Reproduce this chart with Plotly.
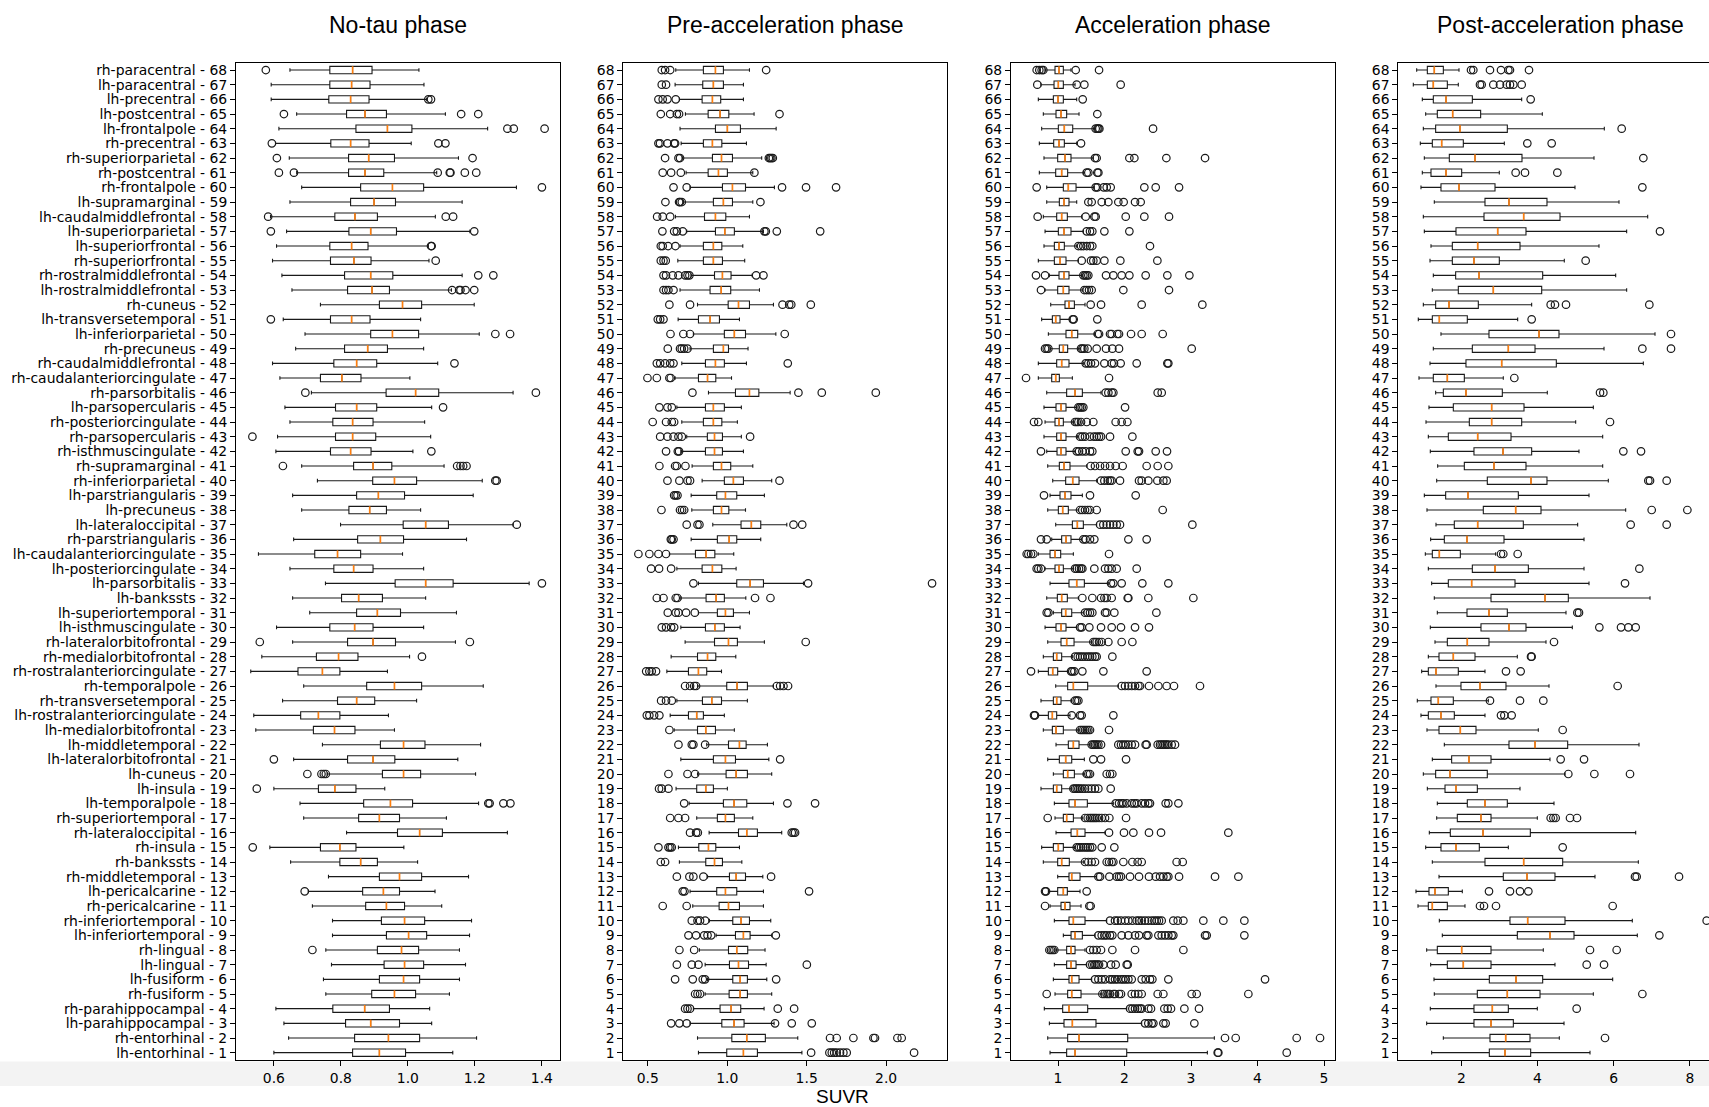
import plotly.graph_objects as go

W, H = 1709, 1107

# ---------------- data (rows listed top to bottom: 68 ... 1) ----------------
region_names = [
    "rh-paracentral", "lh-paracentral", "lh-precentral", "lh-postcentral", "lh-frontalpole",
    "rh-precentral", "rh-superiorparietal", "rh-postcentral", "rh-frontalpole", "lh-supramarginal",
    "lh-caudalmiddlefrontal", "lh-superiorparietal", "lh-superiorfrontal", "rh-superiorfrontal",
    "rh-rostralmiddlefrontal", "lh-rostralmiddlefrontal", "rh-cuneus", "lh-transversetemporal",
    "lh-inferiorparietal", "rh-precuneus", "rh-caudalmiddlefrontal", "rh-caudalanteriorcingulate",
    "rh-parsorbitalis", "lh-parsopercularis", "rh-posteriorcingulate", "rh-parsopercularis",
    "rh-isthmuscingulate", "rh-supramarginal", "rh-inferiorparietal", "lh-parstriangularis",
    "lh-precuneus", "lh-lateraloccipital", "rh-parstriangularis", "lh-caudalanteriorcingulate",
    "lh-posteriorcingulate", "lh-parsorbitalis", "lh-bankssts", "lh-superiortemporal",
    "lh-isthmuscingulate", "rh-lateralorbitofrontal", "rh-medialorbitofrontal",
    "rh-rostralanteriorcingulate", "rh-temporalpole", "rh-transversetemporal",
    "lh-rostralanteriorcingulate", "lh-medialorbitofrontal", "lh-middletemporal",
    "lh-lateralorbitofrontal", "lh-cuneus", "lh-insula", "lh-temporalpole", "rh-superiortemporal",
    "rh-lateraloccipital", "rh-insula", "rh-bankssts", "rh-middletemporal", "lh-pericalcarine",
    "rh-pericalcarine", "rh-inferiortemporal", "lh-inferiortemporal", "rh-lingual", "lh-lingual",
    "lh-fusiform", "rh-fusiform", "rh-parahippocampal", "lh-parahippocampal", "rh-entorhinal",
    "lh-entorhinal",
]
row_ids = list(range(68, 0, -1))

titles = ["No-tau phase", "Pre-acceleration phase", "Acceleration phase", "Post-acceleration phase"]
x_title = "SUVR"
x_tickvals = [[0.6, 0.8, 1.0, 1.2, 1.4], [0.5, 1.0, 1.5, 2.0], [1, 2, 3, 4, 5], [2, 4, 6, 8]]
x_ticktext = [["0.6", "0.8", "1.0", "1.2", "1.4"], ["0.5", "1.0", "1.5", "2.0"],
              ["1", "2", "3", "4", "5"], ["2", "4", "6", "8"]]

# ---- No-tau phase ----
p1_lo = [0.648, 0.592, 0.592, 0.668, 0.615, 0.605, 0.646, 0.668, 0.683, 0.648,
         0.590, 0.638, 0.608, 0.596, 0.624, 0.654, 0.739, 0.628, 0.693, 0.665,
         0.596, 0.618, 0.712, 0.633, 0.648, 0.611, 0.606, 0.683, 0.730, 0.656,
         0.683, 0.799, 0.659, 0.554, 0.648, 0.754, 0.656, 0.707, 0.608, 0.656,
         0.564, 0.531, 0.689, 0.626, 0.540, 0.546, 0.745, 0.659, 0.759, 0.600,
         0.678, 0.689, 0.817, 0.588, 0.650, 0.763, 0.703, 0.715, 0.775, 0.775,
         0.755, 0.772, 0.748, 0.755, 0.606, 0.630, 0.644, 0.600]
p1_q1 = [0.767, 0.767, 0.764, 0.817, 0.845, 0.770, 0.823, 0.823, 0.859, 0.829,
         0.782, 0.824, 0.767, 0.769, 0.811, 0.820, 0.915, 0.769, 0.889, 0.811,
         0.779, 0.739, 0.935, 0.784, 0.776, 0.784, 0.769, 0.838, 0.895, 0.847,
         0.824, 0.986, 0.850, 0.722, 0.779, 0.962, 0.802, 0.847, 0.767, 0.820,
         0.727, 0.672, 0.877, 0.790, 0.680, 0.718, 0.918, 0.820, 0.924, 0.733,
         0.868, 0.853, 0.969, 0.739, 0.797, 0.915, 0.865, 0.874, 0.921, 0.936,
         0.909, 0.929, 0.915, 0.892, 0.776, 0.814, 0.841, 0.835]
p1_med = [0.835, 0.832, 0.829, 0.872, 0.939, 0.829, 0.883, 0.872, 0.954, 0.899,
          0.842, 0.889, 0.832, 0.839, 0.889, 0.893, 0.984, 0.832, 0.954, 0.880,
          0.847, 0.803, 1.023, 0.847, 0.835, 0.835, 0.829, 0.896, 0.960, 0.912,
          0.886, 1.053, 0.918, 0.790, 0.838, 1.053, 0.853, 0.909, 0.841, 0.896,
          0.793, 0.745, 0.960, 0.847, 0.733, 0.781, 0.987, 0.896, 0.987, 0.782,
          0.948, 0.915, 1.035, 0.797, 0.859, 0.975, 0.927, 0.936, 0.990, 1.002,
          0.981, 0.990, 0.987, 0.960, 0.871, 0.889, 0.942, 0.915]
p1_q3 = [0.893, 0.887, 0.884, 0.936, 1.012, 0.884, 0.960, 0.928, 1.047, 0.963,
         0.909, 0.966, 0.881, 0.890, 0.955, 0.945, 1.041, 0.887, 1.032, 0.939,
         0.907, 0.860, 1.092, 0.907, 0.896, 0.904, 0.890, 0.952, 1.026, 0.990,
         0.936, 1.121, 0.987, 0.859, 0.896, 1.135, 0.924, 0.978, 0.896, 0.963,
         0.851, 0.797, 1.041, 0.901, 0.797, 0.842, 1.051, 0.961, 1.038, 0.845,
         1.014, 0.975, 1.103, 0.845, 0.909, 1.041, 0.975, 0.990, 1.050, 1.056,
         1.032, 1.047, 1.035, 1.023, 0.945, 0.975, 1.035, 0.993]
p1_hi = [1.033, 1.048, 1.056, 1.112, 1.238, 1.010, 1.151, 1.086, 1.324, 1.162,
         1.082, 1.185, 1.061, 1.063, 1.162, 1.130, 1.198, 1.038, 1.213, 1.047,
         1.089, 1.006, 1.314, 1.071, 1.050, 1.068, 1.015, 1.108, 1.222, 1.195,
         1.038, 1.314, 1.175, 0.984, 1.047, 1.362, 1.053, 1.145, 1.047, 1.142,
         1.005, 0.939, 1.225, 1.026, 0.942, 0.960, 1.217, 1.149, 1.202, 0.931,
         1.211, 1.115, 1.297, 0.988, 1.029, 1.181, 1.081, 1.101, 1.190, 1.184,
         1.154, 1.172, 1.154, 1.124, 1.065, 1.071, 1.205, 1.134]
p1_out = [[0.576], [], [1.061, 1.069], [0.630, 1.159, 1.210], [1.297, 1.316, 1.408],
          [0.594, 1.091, 1.112], [0.609, 1.193], [0.615, 0.660, 1.089, 1.125, 1.127, 1.170, 1.204],
          [1.400], [],
          [0.583, 1.113, 1.135], [0.591, 1.198], [1.069, 1.071], [1.083], [1.210, 1.255],
          [1.132, 1.153, 1.157, 1.172, 1.198], [], [0.591], [1.261, 1.305], [],
          [1.139], [], [0.694, 1.382], [1.105], [], [0.536], [1.070],
          [0.627, 1.147, 1.157, 1.165, 1.175], [1.261, 1.265], [],
          [], [1.325], [], [], [], [1.400], [], [], [], [0.558, 1.185],
          [1.042], [], [], [], [], [], [], [0.600], [0.700, 0.742, 0.749, 0.755], [0.549],
          [1.240, 1.244, 1.285, 1.306], [], [], [0.537], [], [], [0.692], [], [], [],
          [0.715], [], [], [], [], [], [], []]

# ---- Pre-acceleration phase ----
p2_lo = [0.676, 0.672, 0.699, 0.737, 0.703, 0.710, 0.718, 0.741, 0.766, 0.724,
         0.674, 0.745, 0.703, 0.689, 0.773, 0.703, 0.813, 0.691, 0.787, 0.766,
         0.714, 0.672, 0.882, 0.683, 0.714, 0.745, 0.708, 0.779, 0.842, 0.773,
         0.777, 0.909, 0.773, 0.636, 0.683, 0.819, 0.708, 0.819, 0.708, 0.735,
         0.647, 0.620, 0.813, 0.683, 0.641, 0.666, 0.871, 0.708, 0.813, 0.678,
         0.760, 0.808, 0.886, 0.693, 0.699, 0.876, 0.766, 0.783, 0.888, 0.930,
         0.825, 0.861, 0.876, 0.861, 0.787, 0.766, 0.813, 0.819]
p2_q1 = [0.850, 0.846, 0.842, 0.880, 0.926, 0.850, 0.907, 0.880, 0.970, 0.913,
         0.857, 0.926, 0.850, 0.850, 0.920, 0.892, 1.006, 0.819, 0.982, 0.913,
         0.863, 0.819, 1.052, 0.863, 0.850, 0.875, 0.863, 0.913, 0.982, 0.934,
         0.913, 1.087, 0.938, 0.800, 0.842, 1.060, 0.867, 0.938, 0.863, 0.920,
         0.813, 0.756, 0.997, 0.844, 0.756, 0.813, 1.008, 0.913, 0.993, 0.808,
         0.976, 0.938, 1.071, 0.821, 0.865, 1.014, 0.934, 0.949, 1.035, 1.052,
         1.008, 1.014, 1.035, 1.012, 0.955, 0.966, 1.029, 0.997]
p2_med = [0.926, 0.913, 0.907, 0.955, 1.001, 0.907, 0.964, 0.945, 1.033, 0.976,
          0.926, 0.985, 0.913, 0.913, 0.970, 0.962, 1.071, 0.892, 1.045, 0.976,
          0.926, 0.876, 1.140, 0.913, 0.913, 0.920, 0.920, 0.964, 1.039, 0.989,
          0.964, 1.152, 1.012, 0.867, 0.907, 1.144, 0.930, 0.989, 0.922, 1.008,
          0.876, 0.819, 1.062, 0.903, 0.808, 0.865, 1.077, 0.989, 1.056, 0.865,
          1.043, 0.989, 1.123, 0.882, 0.920, 1.056, 0.989, 1.008, 1.087, 1.102,
          1.060, 1.071, 1.081, 1.081, 1.024, 1.043, 1.123, 1.102]
p2_q3 = [0.976, 0.976, 0.959, 1.010, 1.083, 0.966, 1.033, 1.001, 1.115, 1.033,
         0.991, 1.045, 0.966, 0.970, 1.024, 1.022, 1.140, 0.951, 1.115, 1.008,
         0.982, 0.928, 1.199, 0.982, 0.966, 0.970, 0.970, 1.022, 1.102, 1.060,
         1.010, 1.211, 1.060, 0.922, 0.966, 1.228, 0.982, 1.039, 0.982, 1.064,
         0.928, 0.871, 1.127, 0.964, 0.850, 0.926, 1.119, 1.052, 1.127, 0.913,
         1.123, 1.045, 1.190, 0.928, 0.970, 1.115, 1.060, 1.077, 1.140, 1.144,
         1.129, 1.134, 1.127, 1.127, 1.085, 1.106, 1.240, 1.190]
p2_hi = [1.140, 1.102, 1.102, 1.169, 1.308, 1.121, 1.217, 1.161, 1.297, 1.161,
         1.140, 1.228, 1.098, 1.110, 1.157, 1.203, 1.291, 1.077, 1.306, 1.131,
         1.121, 1.027, 1.396, 1.089, 1.064, 1.089, 1.102, 1.161, 1.280, 1.234,
         1.115, 1.375, 1.211, 1.041, 1.056, 1.480, 1.117, 1.140, 1.081, 1.234,
         1.054, 0.964, 1.291, 1.127, 0.982, 1.045, 1.253, 1.262, 1.280, 1.001,
         1.291, 1.161, 1.343, 1.077, 1.092, 1.224, 1.228, 1.228, 1.274, 1.280,
         1.238, 1.245, 1.249, 1.280, 1.232, 1.295, 1.444, 1.470]
p2_out = [[0.588, 0.609, 0.641, 1.245], [0.588, 0.615], [0.567, 0.594, 0.624, 0.676],
          [0.582, 0.641, 0.683, 0.697, 1.329], [], [0.567, 0.577, 0.624, 0.666, 0.672],
          [0.609, 0.693, 0.703, 1.262, 1.270, 1.278, 1.287], [0.594, 0.647, 0.708, 1.171],
          [0.662, 0.745, 1.345, 1.496, 1.685], [0.611, 0.697, 0.703, 0.714, 1.209],
          [0.559, 0.594, 0.641], [0.592, 0.666, 0.683, 0.720, 1.234, 1.243, 1.312, 1.585],
          [0.582, 0.594, 0.628, 0.674], [0.582, 0.599, 0.613],
          [0.599, 0.615, 0.657, 0.693, 0.735, 0.750, 0.762, 1.182, 1.228],
          [0.599, 0.615, 0.630, 0.662], [0.636, 0.766, 1.348, 1.390, 1.403, 1.526],
          [0.563, 0.578, 0.599], [0.643, 0.724, 0.766, 1.362], [0.626, 0.703, 0.714, 0.729, 0.750],
          [0.557, 0.578, 0.609, 0.641, 0.662, 1.381], [0.498, 0.557, 0.636, 0.645],
          [0.781, 1.448, 1.595, 1.935], [0.573, 0.624, 0.651], [0.531, 0.615, 0.651, 0.666],
          [0.578, 0.624, 0.662, 0.693, 0.714, 1.144], [0.615, 0.689, 0.697],
          [0.573, 0.672, 0.683, 0.737], [0.624, 0.699, 0.750, 0.766, 1.329], [0.666, 0.676, 0.687],
          [0.586, 0.703, 0.716, 0.729], [0.745, 0.813, 0.825, 1.417, 1.472], [0.645, 0.651, 0.662],
          [0.441, 0.510, 0.567, 0.615], [0.521, 0.571, 0.647], [0.787, 1.509, 2.289],
          [0.557, 0.599, 0.676, 0.687, 1.175, 1.272], [0.626, 0.676, 0.693, 0.741, 0.796],
          [0.588, 0.615, 0.647, 0.666], [1.494],
          [], [0.490, 0.510, 0.525, 0.552], [0.735, 0.766, 0.792, 0.804, 1.312, 1.333, 1.354, 1.383],
          [0.584, 0.615, 0.651], [0.494, 0.510, 0.540, 0.573], [0.636], [0.693, 0.777, 0.787, 0.861],
          [1.333], [0.630, 0.750, 0.798], [0.571, 0.588, 0.630],
          [0.729, 1.379, 1.553], [0.641, 0.693, 0.735], [0.766, 0.804, 0.815, 1.406, 1.417, 1.427],
          [0.567, 0.630, 0.641, 0.651], [0.582, 0.609], [0.683, 0.762, 0.787, 0.850, 1.276],
          [0.720, 0.731, 1.515], [0.594, 0.745], [0.777, 0.813, 0.829, 0.861],
          [0.756, 0.804, 0.855, 0.876, 0.899, 1.306],
          [0.699, 0.792], [0.683, 0.777, 0.819, 1.501], [0.672, 0.783, 0.846, 0.861, 1.308],
          [0.798, 0.813, 0.829], [0.735, 0.750, 0.766, 1.318, 1.421],
          [0.647, 0.699, 0.745, 1.301, 1.406, 1.532],
          [1.647, 1.689, 1.794, 1.920, 1.930, 2.071, 2.098],
          [1.528, 1.643, 1.658, 1.673, 1.689, 1.710, 1.731, 1.752, 2.176]]

# ---- Acceleration phase ----
p3_lo = [0.805, 0.744, 0.704, 0.779, 0.754, 0.719, 0.789, 0.719, 0.830, 0.830,
         0.779, 0.805, 0.789, 0.704, 0.870, 0.805, 0.890, 0.754, 0.855, 0.880,
         0.704, 0.704, 0.830, 0.789, 0.805, 0.789, 0.830, 0.845, 0.920, 0.880,
         0.845, 0.965, 0.905, 0.704, 0.805, 0.880, 0.830, 0.930, 0.805, 0.845,
         0.779, 0.704, 0.965, 0.744, 0.704, 0.779, 0.970, 0.845, 0.930, 0.744,
         0.945, 0.955, 0.970, 0.754, 0.779, 0.995, 0.855, 0.880, 0.945, 1.080,
         0.970, 0.945, 0.930, 0.955, 0.794, 0.870, 0.845, 0.880]
p3_q1 = [0.955, 0.940, 0.930, 0.970, 1.005, 0.935, 0.995, 0.965, 1.080, 1.020,
         0.980, 1.005, 0.945, 0.945, 1.015, 0.995, 1.105, 0.915, 1.120, 1.020,
         0.980, 0.905, 1.130, 0.970, 0.955, 0.980, 0.985, 1.020, 1.115, 1.030,
         1.005, 1.216, 1.055, 0.880, 0.955, 1.165, 0.990, 1.055, 0.970, 1.045,
         0.930, 0.855, 1.145, 0.930, 0.855, 0.915, 1.155, 1.020, 1.080, 0.930,
         1.165, 1.080, 1.196, 0.930, 0.995, 1.165, 0.995, 1.045, 1.165, 1.196,
         1.130, 1.130, 1.165, 1.145, 1.070, 1.090, 1.145, 1.130]
p3_med = [1.015, 1.005, 1.000, 1.045, 1.095, 1.015, 1.105, 1.055, 1.155, 1.090,
          1.055, 1.090, 1.015, 1.030, 1.090, 1.080, 1.165, 0.965, 1.206, 1.080,
          1.055, 0.965, 1.256, 1.045, 1.015, 1.045, 1.045, 1.090, 1.221, 1.105,
          1.070, 1.291, 1.120, 0.955, 1.015, 1.281, 1.055, 1.115, 1.045, 1.130,
          0.980, 0.920, 1.231, 0.980, 0.915, 0.970, 1.231, 1.115, 1.145, 0.980,
          1.256, 1.130, 1.291, 1.005, 1.055, 1.206, 1.080, 1.105, 1.231, 1.256,
          1.196, 1.196, 1.206, 1.206, 1.165, 1.216, 1.316, 1.256]
p3_q3 = [1.080, 1.080, 1.080, 1.130, 1.221, 1.095, 1.195, 1.145, 1.271, 1.165,
         1.140, 1.195, 1.095, 1.120, 1.165, 1.165, 1.246, 1.030, 1.296, 1.145,
         1.165, 1.020, 1.366, 1.120, 1.080, 1.120, 1.120, 1.180, 1.316, 1.195,
         1.155, 1.381, 1.195, 1.040, 1.080, 1.396, 1.140, 1.206, 1.120, 1.241,
         1.055, 0.995, 1.446, 1.045, 0.980, 1.080, 1.316, 1.206, 1.246, 1.055,
         1.441, 1.231, 1.406, 1.080, 1.170, 1.331, 1.140, 1.180, 1.406, 1.366,
         1.256, 1.271, 1.316, 1.346, 1.446, 1.571, 2.048, 2.033]
p3_hi = [1.195, 1.256, 1.281, 1.316, 1.556, 1.281, 1.531, 1.381, 1.546, 1.281,
         1.356, 1.381, 1.281, 1.306, 1.366, 1.366, 1.406, 1.180, 1.546, 1.331,
         1.381, 1.216, 1.647, 1.281, 1.231, 1.296, 1.256, 1.431, 1.581, 1.366,
         1.306, 1.581, 1.356, 1.231, 1.231, 1.757, 1.306, 1.381, 1.281, 1.506,
         1.216, 1.155, 1.907, 1.196, 1.180, 1.306, 1.481, 1.396, 1.381, 1.196,
         1.832, 1.366, 1.707, 1.246, 1.381, 1.581, 1.331, 1.346, 1.732, 1.556,
         1.406, 1.431, 1.506, 1.657, 2.033, 2.258, 3.351, 3.246]
p3_out = [[0.679, 0.719, 0.754, 0.779, 1.266, 1.617], [0.689, 1.281, 1.396, 1.942], [1.371], [1.591],
          [1.566, 1.591, 1.607, 1.622, 2.429], [1.346],
          [1.556, 1.581, 2.073, 2.148, 2.629, 3.211], [1.431, 1.456, 1.591, 1.607],
          [0.679, 1.566, 1.591, 1.687, 1.732, 1.792, 2.298, 2.469, 2.820],
          [1.456, 1.506, 1.657, 1.757, 1.907, 1.987, 2.158, 2.243],
          [0.694, 1.416, 1.546, 1.566, 2.018, 2.298, 2.669], [1.431, 1.481, 1.516, 1.697, 2.073],
          [1.306, 1.346, 1.381, 1.431, 1.481, 1.516, 2.383],
          [1.356, 1.496, 1.531, 1.581, 1.697, 1.937, 2.494],
          [0.669, 0.805, 1.381, 1.406, 1.431, 1.456, 1.722, 1.832, 1.957, 2.073, 2.318, 2.644, 2.975],
          [0.744, 1.396, 1.431, 1.466, 1.506, 1.982, 2.669], [1.491, 1.647, 2.258, 3.170],
          [1.221, 1.236, 1.591],
          [1.597, 1.617, 1.782, 1.807, 1.892, 1.917, 2.098, 2.258, 2.574],
          [0.805, 0.830, 0.855, 1.346, 1.366, 1.396, 1.446, 1.581, 1.722, 1.817, 1.917, 3.010],
          [1.416, 1.456, 1.496, 1.556, 1.697, 1.807, 1.842, 1.942, 2.183, 2.644, 2.659],
          [0.519, 1.767], [1.717, 1.757, 1.807, 1.832, 2.499, 2.559],
          [1.306, 1.331, 1.356, 1.381, 2.008],
          [0.639, 0.704, 1.256, 1.281, 1.306, 1.346, 1.431, 1.531, 1.867, 1.957, 2.043],
          [1.331, 1.366, 1.406, 1.481, 1.541, 1.581, 1.617, 1.647, 1.782, 2.118],
          [0.744, 1.281, 1.316, 1.366, 1.416, 1.481, 1.516, 2.018, 2.198, 2.218, 2.469, 2.639],
          [1.491, 1.556, 1.632, 1.707, 1.782, 1.867, 1.972, 2.333, 2.499, 2.659],
          [1.647, 1.697, 1.747, 1.782, 1.807, 1.932, 2.218, 2.258, 2.358, 2.494, 2.584, 2.634],
          [0.789, 1.481, 2.168],
          [1.331, 1.366, 1.406, 1.446, 1.481, 1.581, 2.574],
          [1.632, 1.682, 1.732, 1.782, 1.832, 1.882, 1.932, 3.020],
          [0.744, 0.830, 1.381, 1.416, 1.481, 1.546, 2.058, 2.333],
          [0.529, 0.554, 0.594, 0.629, 1.767],
          [0.679, 0.704, 0.744, 1.256, 1.281, 1.316, 1.346, 1.366, 1.546, 1.707, 1.757, 1.807, 1.882, 2.183],
          [1.797, 1.832, 1.957, 2.268, 2.659],
          [1.366, 1.516, 1.647, 1.697, 1.732, 1.807, 2.048, 2.058, 2.358, 3.035],
          [0.830, 0.855, 1.406, 1.446, 1.481, 1.516, 1.707, 1.732, 1.847, 2.479],
          [1.331, 1.356, 1.471, 1.647, 1.807, 1.947, 2.158, 2.368],
          [1.531, 1.556, 1.581, 1.617, 1.657, 1.757, 1.957, 2.118],
          [1.256, 1.296, 1.331, 1.366, 1.406, 1.446, 1.481, 1.516, 1.556, 1.581, 1.817],
          [0.594, 1.196, 1.216, 1.246, 1.366, 1.682, 2.333],
          [1.957, 2.008, 2.058, 2.108, 2.158, 2.208, 2.233, 2.368, 2.509, 2.634, 2.744, 3.135],
          [1.256, 1.281, 1.306], [0.639, 0.654, 1.206, 1.331, 1.356, 1.832],
          [1.331, 1.356, 1.381, 1.406, 1.431, 1.456, 1.481, 1.767],
          [1.506, 1.531, 1.556, 1.581, 1.607, 1.647, 1.907, 1.947, 1.982, 2.018, 2.058, 2.108,
           2.158, 2.318, 2.333, 2.499, 2.534, 2.559, 2.584, 2.609, 2.634, 2.659, 2.709, 2.759],
          [1.531, 1.647, 2.023], [1.431, 1.456, 1.481, 1.732, 1.782, 1.817],
          [1.231, 1.256, 1.281, 1.306, 1.331, 1.366, 1.406, 1.456, 1.506, 1.556, 1.607, 1.792],
          [1.867, 1.917, 1.957, 1.982, 2.033, 2.108, 2.148, 2.183, 2.258, 2.308, 2.358, 2.383,
           2.619, 2.659, 2.810],
          [0.845, 1.406, 1.446, 1.481, 1.506, 1.531, 1.556, 1.581, 1.617, 1.657, 1.707, 1.772, 2.023],
          [1.767, 1.992, 2.133, 2.368, 2.549, 3.561],
          [1.281, 1.316, 1.346, 1.381, 1.416, 1.446, 1.481, 1.516, 1.657, 1.847],
          [1.406, 1.456, 1.506, 1.556, 1.732, 1.767, 1.807, 1.832, 1.982, 2.118, 2.198, 2.258,
           2.784, 2.875],
          [1.607, 1.632, 1.772, 1.882, 1.917, 1.947, 2.083, 2.218, 2.368, 2.469, 2.534, 2.584,
           2.634, 2.659, 2.820, 3.361, 3.712],
          [0.805, 0.820, 1.431], [0.805, 1.471, 1.491],
          [1.782, 1.857, 1.897, 1.947, 2.008, 2.058, 2.118, 2.183, 2.218, 2.258, 2.308, 2.358,
           2.409, 2.449, 2.484, 2.519, 2.559, 2.734, 2.800, 2.885, 3.185, 3.486, 3.802],
          [1.607, 1.657, 1.697, 1.732, 1.782, 1.817, 1.957, 2.058, 2.158, 2.218, 2.333, 2.358,
           2.509, 2.559, 2.609, 2.659, 2.709, 2.734, 3.211, 3.236, 3.802],
          [0.870, 0.895, 0.920, 0.945, 1.481, 1.531, 1.581, 1.647, 1.817, 2.158, 2.885],
          [1.481, 1.516, 1.546, 1.566, 1.597, 1.617, 1.682, 1.797, 1.867, 2.033, 2.048],
          [1.556, 1.607, 1.657, 1.707, 1.782, 1.817, 1.857, 1.897, 1.947, 1.982, 2.018, 2.058,
           2.108, 2.258, 2.318, 2.383, 2.419, 2.659, 4.113],
          [0.830, 1.667, 1.697, 1.732, 1.757, 1.782, 1.832, 1.857, 1.917, 1.947, 2.108, 2.158,
           2.208, 2.258, 2.499, 2.584, 3.010, 3.085, 3.862],
          [2.083, 2.118, 2.158, 2.198, 2.233, 2.258, 2.358, 2.398, 2.599, 2.649, 2.699, 2.900, 3.120],
          [2.308, 2.358, 2.409, 2.434, 2.584, 2.619, 3.050],
          [3.511, 3.672, 4.589, 4.940],
          [3.401, 3.411, 4.439]]

# ---- Post-acceleration phase ----
p4_lo = [0.828, 0.740, 0.976, 1.064, 1.003, 0.924, 1.029, 0.976, 0.941, 1.291,
         1.003, 1.029, 1.204, 1.178, 1.265, 1.239, 1.003, 0.871, 1.466, 1.265,
         1.178, 0.889, 1.326, 1.151, 1.073, 1.134, 1.186, 1.379, 1.353, 1.029,
         1.099, 1.335, 1.195, 1.055, 1.134, 1.221, 1.291, 1.370, 1.186, 1.309,
         1.134, 0.959, 1.335, 0.845, 0.941, 1.099, 1.554, 1.239, 1.003, 1.108,
         1.370, 1.353, 1.160, 1.064, 1.239, 1.414, 0.810, 0.863, 1.423, 1.501,
         1.090, 1.195, 1.283, 1.291, 1.186, 1.090, 1.528, 1.221]
p4_q1 = [1.108, 1.108, 1.265, 1.370, 1.326, 1.239, 1.685, 1.204, 1.466, 2.621,
         2.595, 1.860, 1.764, 1.764, 1.851, 1.921, 1.326, 1.239, 2.726, 2.289,
         2.122, 1.265, 1.528, 1.790, 2.210, 1.659, 2.332, 2.079, 2.682, 1.589,
         2.577, 1.816, 1.554, 1.239, 2.289, 1.659, 2.779, 2.149, 2.516, 1.633,
         1.414, 1.134, 1.991, 1.204, 1.134, 1.414, 3.251, 1.746, 1.326, 1.572,
         2.157, 1.895, 1.711, 1.466, 2.621, 3.102, 1.151, 1.134, 3.277, 3.470,
         1.370, 1.633, 2.735, 2.420, 2.332, 2.332, 2.752, 2.735]
p4_med = [1.291, 1.265, 1.598, 1.773, 1.965, 1.484, 2.359, 1.598, 1.939, 3.251,
          3.636, 2.954, 2.429, 2.332, 2.464, 2.840, 1.676, 1.423, 4.039, 3.234,
          3.059, 1.633, 2.122, 2.796, 2.796, 2.429, 3.094, 2.857, 3.829, 2.175,
          3.426, 2.429, 2.149, 1.423, 2.884, 2.271, 4.196, 2.726, 3.251, 2.157,
          1.790, 1.335, 2.490, 1.396, 1.466, 1.974, 3.934, 2.201, 1.703, 1.860,
          2.621, 2.516, 2.569, 1.860, 3.636, 3.724, 1.309, 1.239, 3.741, 4.327,
          2.009, 2.052, 3.435, 3.207, 2.814, 2.779, 3.164, 3.146]
p4_q3 = [1.528, 1.633, 2.289, 2.507, 3.207, 2.052, 3.592, 2.009, 2.884, 4.248,
         4.590, 3.697, 3.540, 2.997, 4.135, 4.109, 2.446, 2.157, 4.563, 3.934,
         4.493, 2.079, 3.076, 3.645, 3.584, 3.304, 3.846, 3.697, 4.248, 3.496,
         4.091, 3.627, 3.120, 1.974, 3.759, 3.409, 4.808, 3.207, 3.697, 2.726,
         2.359, 1.921, 3.172, 1.790, 1.816, 2.385, 4.791, 2.779, 2.682, 2.420,
         3.207, 2.779, 3.811, 2.472, 4.660, 4.458, 1.659, 1.633, 4.721, 4.957,
         2.779, 2.779, 4.135, 4.065, 3.234, 3.365, 3.802, 3.820]
p4_hi = [1.939, 1.921, 3.584, 4.126, 5.753, 3.129, 5.482, 2.997, 4.983, 6.138,
         6.891, 6.339, 5.613, 4.703, 6.051, 6.339, 3.846, 3.479, 7.083, 5.745,
         6.777, 3.102, 4.257, 5.465, 5.001, 5.710, 5.088, 5.710, 5.858, 5.351,
         6.313, 5.053, 5.220, 2.901, 5.220, 5.351, 6.952, 4.747, 4.913, 4.222,
         3.470, 2.621, 4.301, 2.709, 2.621, 4.021, 6.663, 4.327, 4.721, 3.540,
         4.432, 3.995, 6.576, 3.234, 6.646, 5.508, 2.026, 2.096, 6.488, 6.619,
         4.152, 4.458, 5.972, 5.465, 3.995, 4.695, 4.572, 5.377]
p4_out = [[2.254, 2.315, 2.752, 3.041, 3.234, 3.277, 3.776],
          [2.490, 2.534, 2.840, 3.015, 3.190, 3.277, 3.365, 3.584],
          [3.820], [], [6.208], [3.732, 4.371], [6.777], [3.426, 3.671, 4.520], [6.751], [],
          [], [7.214], [], [5.263], [], [], [4.345, 4.458, 4.747, 6.934], [3.846], [7.503], [6.751, 7.503],
          [], [3.391], [5.640, 5.727], [], [5.902], [], [6.252, 6.716], [], [6.908, 6.952, 7.389], [],
          [6.996, 7.932], [6.444, 7.389], [], [3.041, 3.102, 3.479], [6.672], [6.296], [],
          [5.045, 5.088], [5.622, 6.191, 6.383, 6.576], [4.432],
          [3.829, 3.846], [3.172, 3.557], [6.103], [2.752, 3.540, 4.152], [3.041, 3.129, 3.321],
          [4.660], [], [4.607, 5.220], [4.808, 5.491, 6.427], [],
          [], [4.345, 4.415, 4.476, 4.852, 5.036], [], [4.660], [], [6.558, 6.602, 7.713],
          [2.726, 3.277, 3.540, 3.759], [2.490, 2.595, 2.910, 5.972], [8.439], [7.197],
          [5.377, 6.077], [5.290, 5.745], [], [6.751], [5.027], [], [5.771], []]

panels = [
    dict(lo=p1_lo, q1=p1_q1, med=p1_med, q3=p1_q3, hi=p1_hi, out=p1_out),
    dict(lo=p2_lo, q1=p2_q1, med=p2_med, q3=p2_q3, hi=p2_hi, out=p2_out),
    dict(lo=p3_lo, q1=p3_q1, med=p3_med, q3=p3_q3, hi=p3_hi, out=p3_out),
    dict(lo=p4_lo, q1=p4_q1, med=p4_med, q3=p4_q3, hi=p4_hi, out=p4_out),
]

# ---------------- layout geometry (pixels) ----------------
dom_px = [(236.0, 560.0), (623.3, 947.3), (1011.0, 1335.0), (1398.3, 1709.0)]
x_ranges = [[0.487, 1.454], [0.346, 2.385], [0.293, 5.165], [0.346, 8.50]]
y_top_px, y_bot_px = 62.7, 1060.0
box_w = 0.5

fig = go.Figure()
ax_names = ["", "2", "3", "4"]

# boxes first (drawn beneath median lines and fliers)
for i, p in enumerate(panels):
    fig.add_trace(go.Box(
        orientation="h", y=row_ids,
        q1=p["q1"], median=p["med"], q3=p["q3"],
        lowerfence=p["lo"], upperfence=p["hi"],
        width=box_w, whiskerwidth=0.5, boxpoints=False,
        fillcolor="rgba(0,0,0,0)", line=dict(color="#1a1a1a", width=1.1),
        hoverinfo="skip", showlegend=False,
        xaxis="x" + ax_names[i], yaxis="y" + ax_names[i],
    ))

for i, p in enumerate(panels):
    mx, my = [], []
    for r, m in zip(row_ids, p["med"]):
        mx += [m, m, None]
        my += [r - box_w / 2, r + box_w / 2, None]
    fig.add_trace(go.Scatter(
        x=mx, y=my, mode="lines", line=dict(color="#ff7f0e", width=1.6),
        hoverinfo="skip", showlegend=False,
        xaxis="x" + ax_names[i], yaxis="y" + ax_names[i],
    ))
    ox, oy = [], []
    for r, vals in zip(row_ids, p["out"]):
        for v in vals:
            ox.append(v)
            oy.append(r)
    fig.add_trace(go.Scatter(
        x=ox, y=oy, mode="markers",
        marker=dict(symbol="circle-open", size=7.5, color="#1a1a1a", line=dict(width=1.2)),
        hoverinfo="skip", showlegend=False,
        xaxis="x" + ax_names[i], yaxis="y" + ax_names[i],
    ))

tick_font = dict(family="DejaVu Sans", size=13.9, color="#000000")
ydom = [1 - y_bot_px / H, 1 - y_top_px / H]
layout = dict(
    width=W, height=H, margin=dict(l=0, r=0, t=0, b=0),
    paper_bgcolor="white", plot_bgcolor="white", showlegend=False,
    boxmode="overlay",
)
for i in range(4):
    a = ax_names[i]
    x0, x1 = dom_px[i]
    layout["xaxis" + a] = dict(
        domain=[x0 / W, x1 / W], range=x_ranges[i], anchor="y" + a,
        tickmode="array", tickvals=x_tickvals[i], ticktext=x_ticktext[i],
        ticks="outside", ticklen=5, tickwidth=1, tickcolor="#000",
        showline=True, linecolor="#000", linewidth=1, mirror=True,
        showgrid=False, zeroline=False, tickfont=tick_font, automargin=False,
    )
    if i == 0:
        ytext = [f"{nm} - {r}" for nm, r in zip(region_names, row_ids)]
    else:
        ytext = [str(r) for r in row_ids]
    layout["yaxis" + a] = dict(
        domain=ydom, range=[0.5, 68.5], anchor="x" + a,
        tickmode="array", tickvals=row_ids, ticktext=ytext,
        ticks="outside", ticklen=5, tickwidth=1, tickcolor="#000",
        showline=True, linecolor="#000", linewidth=1, mirror=(i < 3),
        showgrid=False, zeroline=False, tickfont=tick_font, automargin=False,
    )

annotations = []
for i, t in enumerate(titles):
    x0, x1 = dom_px[i]
    cx = (x0 + (x0 + 324.0)) / 2
    annotations.append(dict(
        text=t, x=cx / W, y=1 - 25.0 / H, xref="paper", yref="paper",
        xanchor="center", yanchor="middle", showarrow=False,
        font=dict(family="Liberation Sans, Arial", size=23, color="#000"),
    ))
annotations.append(dict(
    text=x_title, x=842.0 / W, y=1 - 1096.0 / H, xref="paper", yref="paper",
    xanchor="center", yanchor="middle", showarrow=False,
    font=dict(family="Liberation Sans, Arial", size=19, color="#000"),
))
layout["annotations"] = annotations
layout["shapes"] = [dict(
    type="rect", xref="paper", yref="paper", x0=0, x1=1,
    y0=1 - 1086.0 / H, y1=1 - 1061.5 / H, fillcolor="#f3f3f3",
    line=dict(width=0), layer="below",
)]

fig.update_layout(**layout)
fig.write_html("out.html",
               config={"displayModeBar": False, "staticPlot": True},
               post_script="document.body.style.margin='0px';document.body.style.overflow='hidden';")
